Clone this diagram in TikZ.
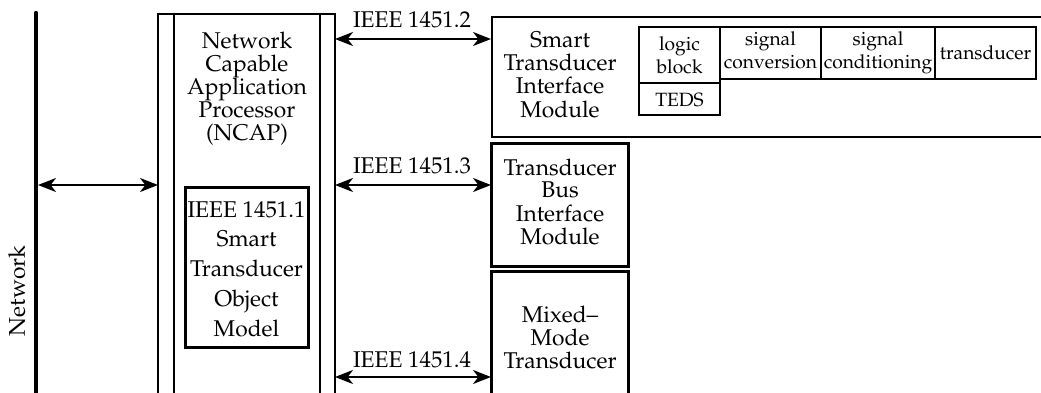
\documentclass[tikz,border=0pt]{standalone}
\usepackage[T1]{fontenc}
\usepackage{mathpazo}
\usetikzlibrary{arrows.meta}
% centred stack of lines whose reference point is the first baseline
\newcommand{\linestack}[1]{\begin{tabular}[t]{@{}c@{}}#1\end{tabular}}
\begin{document}
\begin{tikzpicture}[x=0.5pt,y=-0.5pt,line join=miter,
  txt/.style={font=\fontsize{11.4}{11.4}\selectfont, inner sep=0pt, anchor=base},
  smalltxt/.style={font=\fontsize{9.6}{11.5}\selectfont, inner sep=0pt, anchor=base},
  tip/.tip={Stealth[length=9pt,width=7pt,inset=2.7pt]},
  biarrow/.style={line width=1pt, tip-tip},
  bus/.style={line width=2.2pt, line cap=round},
  outerline/.style={line width=1.3pt},
  innerline/.style={line width=0.8pt},
  heavybox/.style={line width=1.5pt},
  cellbox/.style={line width=0.8pt}]
\useasboundingbox (0,0) rectangle (1041,392);

% network bus
\coordinate (busTop) at (36,13);
\coordinate (busBot) at (36,400);
\draw[bus] (busTop) -- (busBot);
\node[txt, rotate=90] (netlabel) at (25,291) {Network};

% NCAP frame, open at the bottom
\draw[outerline] (158,400) -- (158,14) -- (335,14) -- (335,400);
\draw[innerline] (174,14) -- (174,400);
\draw[innerline] (320,14) -- (320,400);
\node[txt] (ncap) at (247,48) {\linestack{Network\\Capable\\Application\\Processor\\(NCAP)}};

% object model
\draw[heavybox] (185,187) rectangle (308,347);
\node[txt, font=\fontsize{11.4}{14.9}\selectfont] (stom) at (246.5,217)
  {\linestack{IEEE 1451.1\\Smart\\Transducer\\Object\\Model}};

% STIM
\draw[outerline] (1050,17) -- (492,17) -- (492,137) -- (1050,137);
\node[txt] (stim) at (560,47) {\linestack{Smart\\Transducer\\Interface\\Module}};
\draw[cellbox] (639,83) rectangle (720,115);
\draw[cellbox] (720,27) rectangle (821,79);
\draw[cellbox] (821,27) rectangle (935,79);
\draw[cellbox] (935,27) rectangle (1036,79);
\draw[line width=1.1pt] (639,27) rectangle (720,83);
\node[smalltxt] (logic) at (679.5,50) {\linestack{logic\\block}};
\node[smalltxt] (teds) at (679.5,106) {TEDS};
\node[smalltxt] (conv) at (770.5,45) {\linestack{signal\\conversion}};
\node[smalltxt] (cond) at (878,45) {\linestack{signal\\conditioning}};
\node[smalltxt] (xdcr) at (985.5,59) {transducer};

% TBIM
\draw[heavybox] (491,143) rectangle (628,266);
\node[txt] (tbim) at (560,175) {\linestack{Transducer\\Bus\\Interface\\Module}};

% mixed-mode transducer, open at the bottom
\draw[heavybox] (491,400) -- (491,271) -- (628,271) -- (628,400);
\node[txt] (mmt) at (560,322) {\linestack{Mixed--\\Mode\\Transducer}};

% connections
\coordinate (busR) at (38,185);
\coordinate (ncapW) at (158,185);
\draw[biarrow] (busR) -- (ncapW);

\coordinate (ncapA) at (335,39);
\coordinate (stimW) at (491,39);
\draw[biarrow] (ncapA) -- (stimW);
\node[txt] (l2) at (412,27) {IEEE 1451.2};

\coordinate (ncapB) at (335,185);
\coordinate (tbimW) at (491,185);
\draw[biarrow] (ncapB) -- (tbimW);
\node[txt] (l3) at (412,173) {IEEE 1451.3};

\coordinate (ncapC) at (335,377);
\coordinate (mmtW) at (491,377);
\draw[biarrow] (ncapC) -- (mmtW);
\node[txt] (l4) at (412,367) {IEEE 1451.4};
\end{tikzpicture}
\end{document}
